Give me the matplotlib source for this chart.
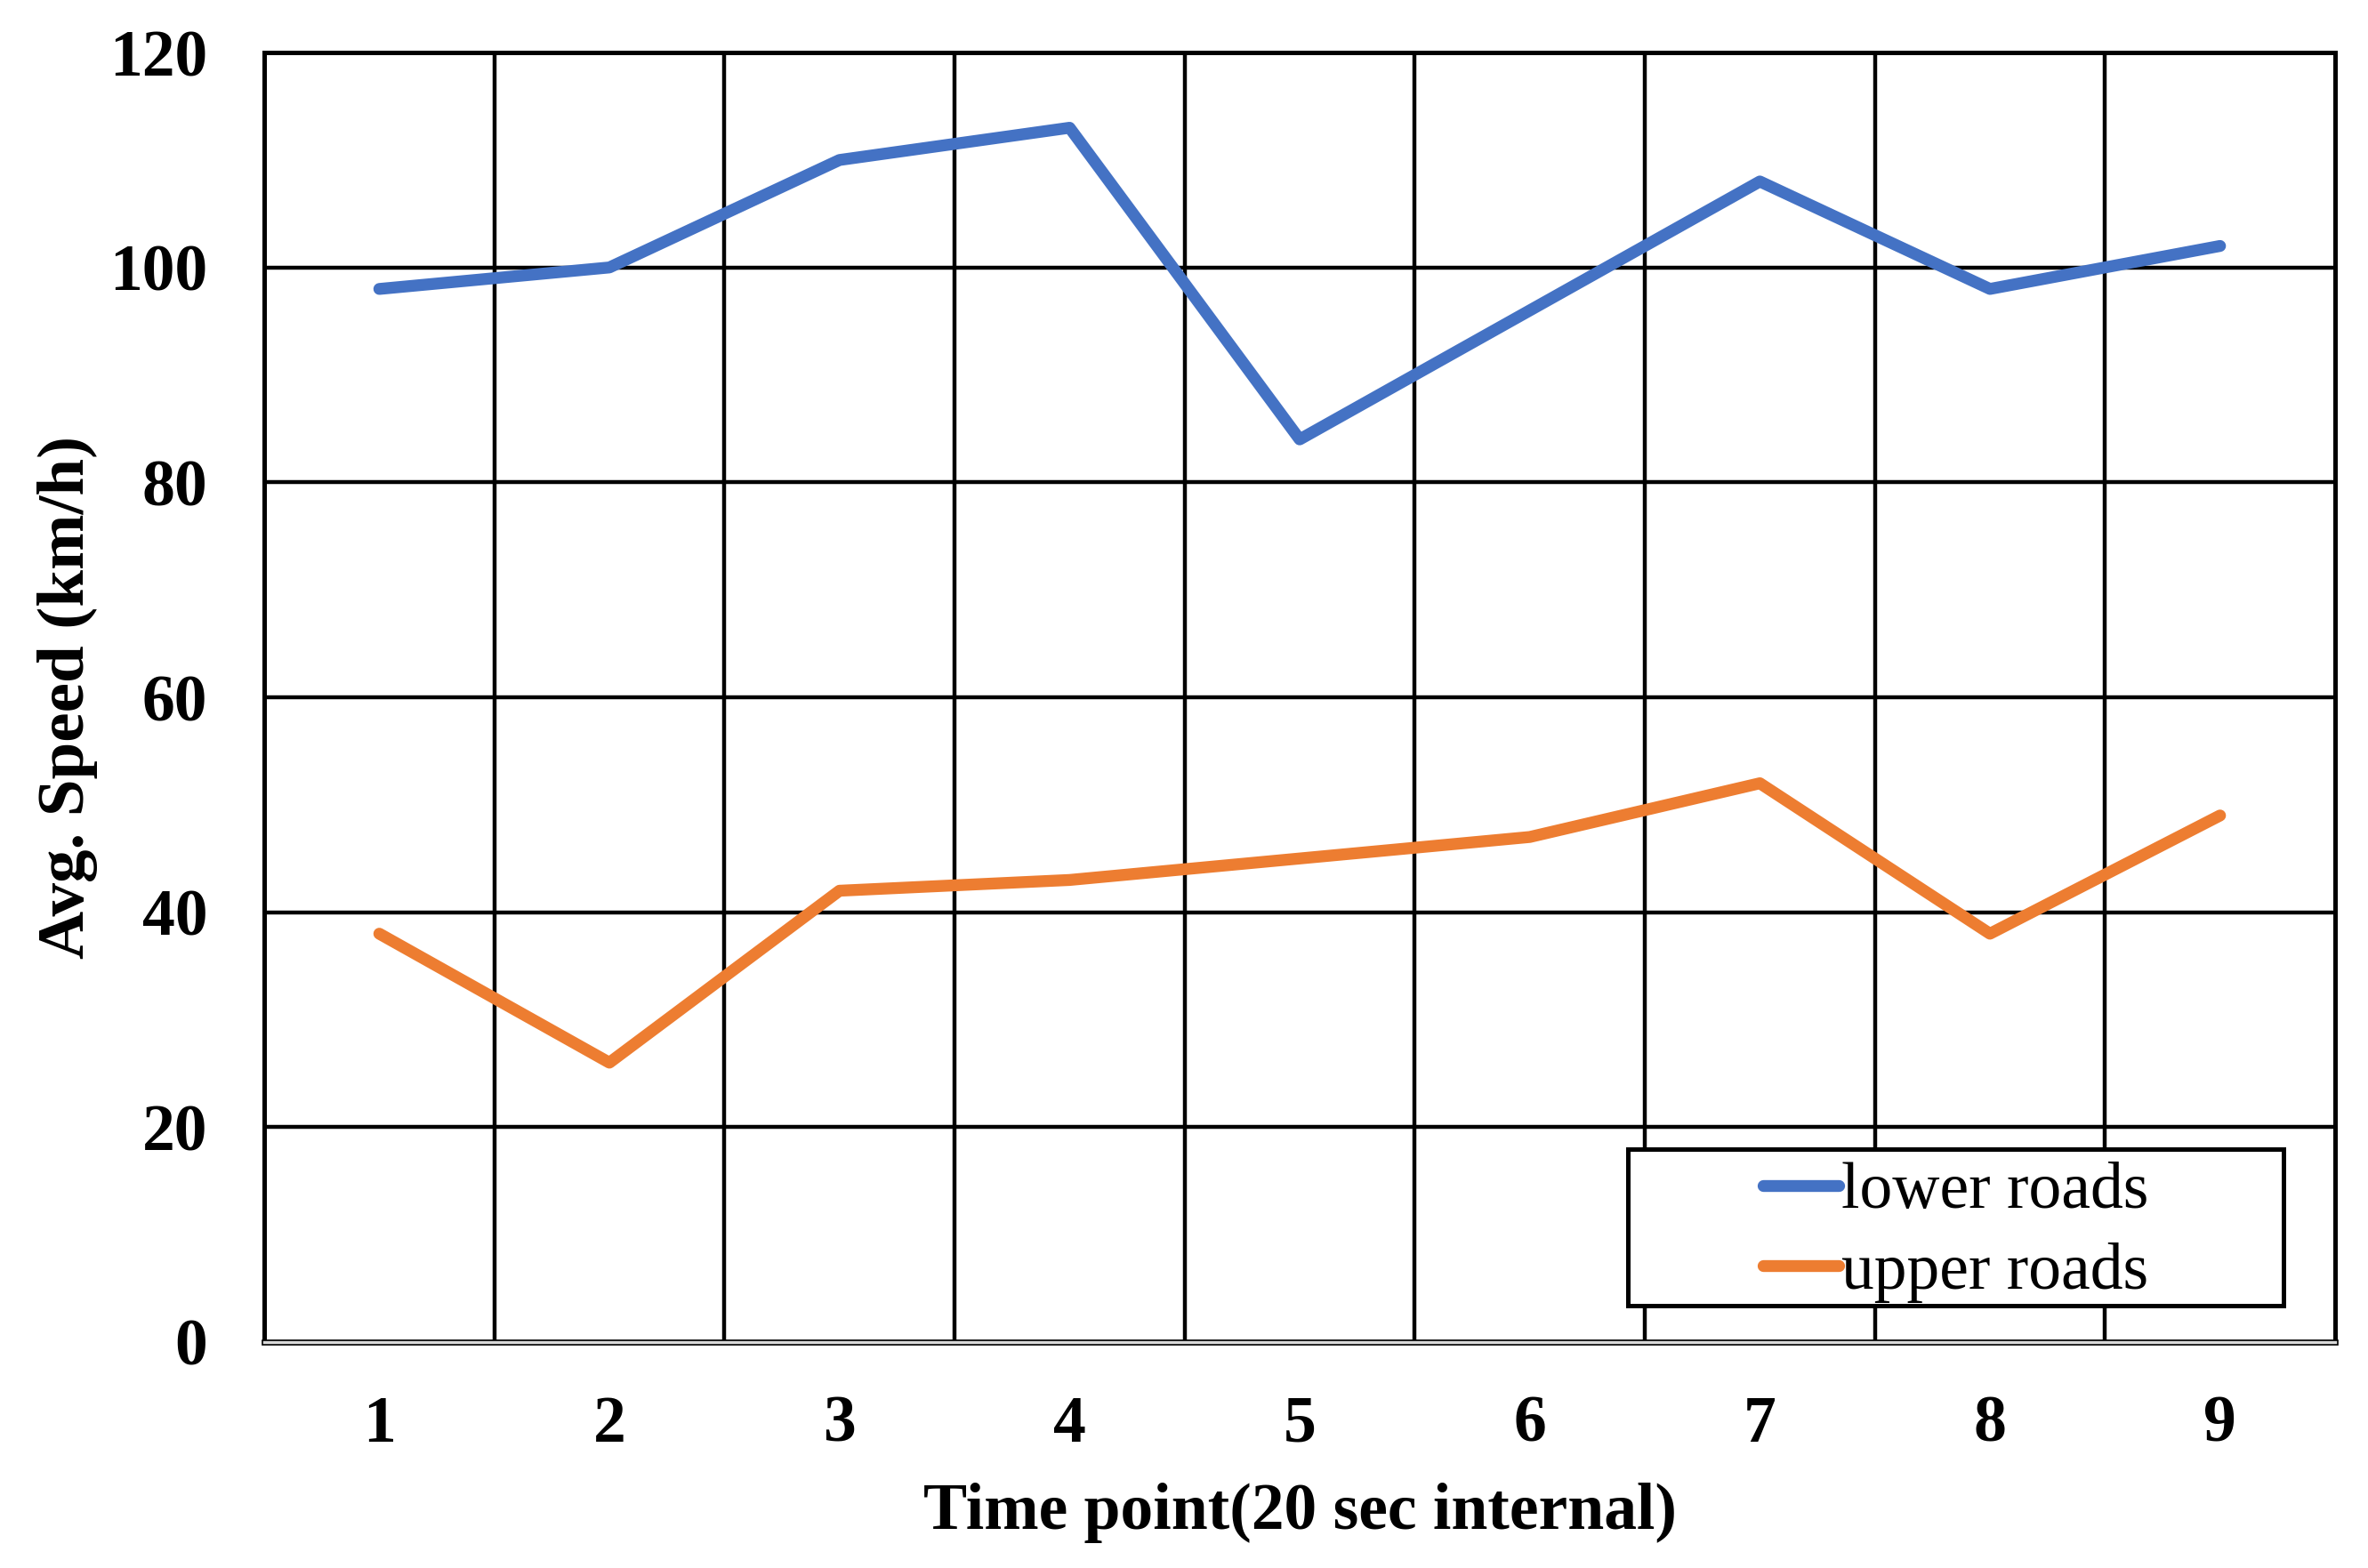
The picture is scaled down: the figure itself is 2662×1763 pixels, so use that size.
import matplotlib.pyplot as plt
import matplotlib.patheffects as pe
from matplotlib.patches import Rectangle
import numpy as np

# Данные
time_points = ['1', '2', '3', '4', '5', '6', '7', '8', '9']
lower_roads = [98, 100, 110, 113, 84, 96, 108, 98, 102]
upper_roads = [38, 26, 42, 43, 45, 47, 52, 38, 49]
y_ticks = [0, 20, 40, 60, 80, 100, 120]

plt.rcParams['font.family'] = ['Liberation Serif', 'DejaVu Serif']

fig = plt.figure(figsize=(13.31, 8.815), dpi=200)
ax = fig.add_axes([0.1116, 0.1441, 0.8745, 0.8224])

x = np.arange(1, len(time_points) + 1)
ax.plot(x, lower_roads, color='#4472C4', lw=4.8, label='lower roads',
        solid_capstyle='round', solid_joinstyle='round', zorder=3)
ax.plot(x, upper_roads, color='#ED7D31', lw=4.8, label='upper roads',
        solid_capstyle='round', solid_joinstyle='round', zorder=3)

ax.set_xlim(0.5, len(time_points) + 0.5)
ax.set_ylim(0, 120)
ax.set_xticks(x)
ax.set_xticklabels(time_points)
ax.set_yticks(y_ticks)
ax.set_xticks(np.arange(1.5, len(time_points)), minor=True)

# сетка
ax.grid(True, which='minor', axis='x', color='black', lw=1.6)
ax.grid(True, which='major', axis='y', color='black', lw=1.6)
ax.set_axisbelow(True)
ax.tick_params(which='both', length=0)
ax.tick_params(axis='x', pad=21.5, labelsize=26.5)
ax.tick_params(axis='y', pad=23, labelsize=26.5)
for lbl in ax.get_xticklabels() + ax.get_yticklabels():
    lbl.set_fontweight('bold')

for s in ['top', 'left', 'right']:
    ax.spines[s].set_color('black')
    ax.spines[s].set_linewidth(1.8)
ax.spines['bottom'].set_color('#D9D9D9')
ax.spines['bottom'].set_linewidth(1.2)
ax.spines['bottom'].set_path_effects([pe.Stroke(linewidth=2.4, foreground='black'), pe.Normal()])

ax.set_xlabel('Time point(20 sec internal)', fontsize=26.5, fontweight='bold', labelpad=11)
ax.set_ylabel('Avg. Speed (km/h)', fontsize=27, fontweight='bold', labelpad=4.5)

# легенда с рамкой как в Excel
ax.add_patch(Rectangle((0.6585, 0.0283), 0.3165, 0.1214, transform=ax.transAxes,
                       facecolor='white', edgecolor='black', lw=1.8, zorder=4))
leg = ax.legend(loc='center', bbox_to_anchor=(0.817, 0.085), frameon=False,
                fontsize=26.5, handlelength=1.15, handletextpad=0.05,
                labelspacing=0.3, borderpad=0)
leg.set_zorder(5)

fig.savefig('out.png', dpi=200)
